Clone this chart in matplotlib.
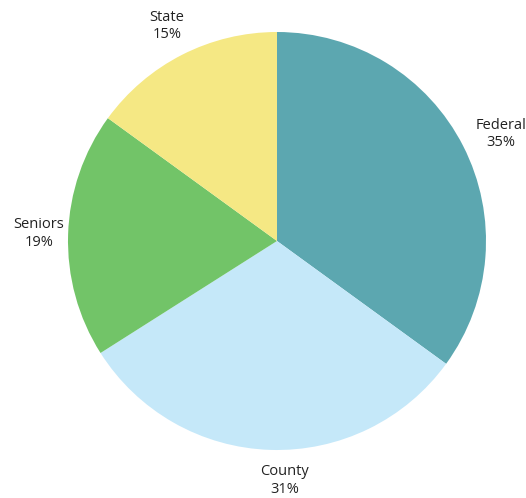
import matplotlib.pyplot as plt

labels = ["Federal", "County", "Seniors", "State"]
shares = [35, 31, 19, 15]
colors = ["#5ca7b0", "#c5e8f9", "#72c468", "#f5e884"]

plt.rcParams["font.family"] = ["Open Sans", "DejaVu Sans"]

fig = plt.figure(figsize=(5.26, 4.98), dpi=100)
ax = fig.add_axes([0, 0, 1, 1])

# centre at pixel (277, 241), radius 209 px
r = 209.0
cx, cy = 277.0, 241.0

texts = ["%s\n%d%%" % (l, s) for l, s in zip(labels, shares)]
wedges, lbls = ax.pie(shares, labels=texts, colors=colors, startangle=90,
                      counterclock=False, labeldistance=1.16,
                      textprops={"fontsize": 10.5, "color": "#222222",
                                 "va": "center", "linespacing": 1.25})

# small nudges (pixels) so labels sit like in the original
nudges = [(8, -3), (15, 3), (4, 0), (0, -1)]
for t, (dx, dy) in zip(lbls, nudges):
    x, y = t.get_position()
    t.set_position((x + dx / r, y + dy / r))
    t.set_ha("center")

ax.set_xlim(-cx / r, (526 - cx) / r)
ax.set_ylim(-(498 - cy) / r, cy / r)
ax.set_aspect("equal")
ax.axis("off")

fig.savefig("out.png", dpi=100)
